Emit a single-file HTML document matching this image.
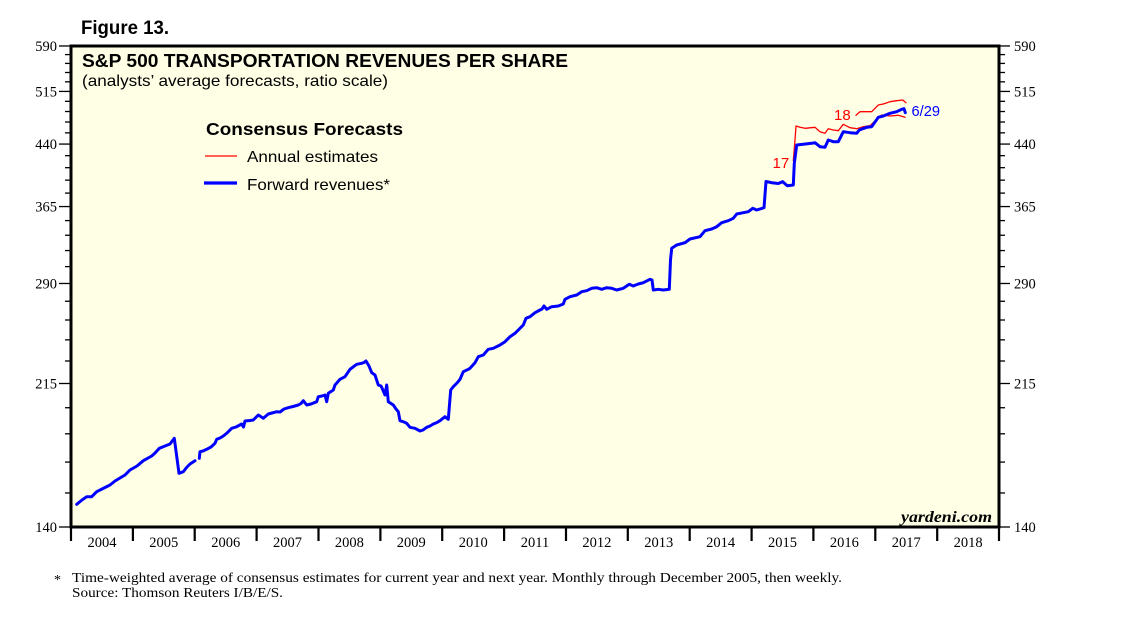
<!DOCTYPE html>
<html><head><meta charset="utf-8"><style>
html,body{margin:0;padding:0;background:#fff;}
svg{display:block;}
</style></head><body>
<svg width="1138" height="630" viewBox="0 0 1138 630" xmlns="http://www.w3.org/2000/svg">
<rect x="0" y="0" width="1138" height="630" fill="#fff"/>
<text x="81" y="34" font-family="Liberation Sans, Arial, sans-serif" font-weight="bold" font-size="19" textLength="88" lengthAdjust="spacingAndGlyphs" fill="#000">Figure 13.</text>
<rect x="71" y="46" width="928" height="481" fill="#FFFFE6"/>
<text x="82" y="67" font-family="Liberation Sans, Arial, sans-serif" font-weight="bold" font-size="18.5" textLength="486" lengthAdjust="spacingAndGlyphs" fill="#000">S&amp;P 500 TRANSPORTATION REVENUES PER SHARE</text>
<text x="82" y="86" font-family="Liberation Sans, Arial, sans-serif" font-size="16" textLength="306" lengthAdjust="spacingAndGlyphs" fill="#000">(analysts’ average forecasts, ratio scale)</text>
<text x="206" y="135" font-family="Liberation Sans, Arial, sans-serif" font-weight="bold" font-size="17.5" textLength="197" lengthAdjust="spacingAndGlyphs" fill="#000">Consensus Forecasts</text>
<line x1="205" y1="156" x2="237" y2="156" stroke="#ff0000" stroke-width="1.3"/>
<text x="247" y="162" font-family="Liberation Sans, Arial, sans-serif" font-size="16" textLength="131" lengthAdjust="spacingAndGlyphs" fill="#000">Annual estimates</text>
<line x1="204" y1="183" x2="237" y2="183" stroke="#0000ff" stroke-width="3.2"/>
<text x="247" y="190" font-family="Liberation Sans, Arial, sans-serif" font-size="16" textLength="143" lengthAdjust="spacingAndGlyphs" fill="#000">Forward revenues*</text>

<!-- left ticks -->
<g stroke="#000" stroke-width="1.3">
<line x1="59" y1="45.97" x2="71" y2="45.97"/><line x1="59" y1="91.43" x2="71" y2="91.43"/><line x1="59" y1="144.07" x2="71" y2="144.07"/><line x1="59" y1="206.56" x2="71" y2="206.56"/><line x1="59" y1="283.48" x2="71" y2="283.48"/><line x1="59" y1="383.5" x2="71" y2="383.5"/><line x1="59" y1="527" x2="71" y2="527"/>
<line x1="999" y1="45.97" x2="1010" y2="45.97"/><line x1="999" y1="91.43" x2="1010" y2="91.43"/><line x1="999" y1="144.07" x2="1010" y2="144.07"/><line x1="999" y1="206.56" x2="1010" y2="206.56"/><line x1="999" y1="283.48" x2="1010" y2="283.48"/><line x1="999" y1="383.5" x2="1010" y2="383.5"/><line x1="999" y1="527" x2="1010" y2="527"/>
</g>
<g stroke="#000" stroke-width="1.3" id="minor">
<line x1="65" y1="492.96" x2="71" y2="492.96"/><line x1="65" y1="462.07" x2="71" y2="462.07"/><line x1="65" y1="433.8" x2="71" y2="433.8"/><line x1="65" y1="407.73" x2="71" y2="407.73"/>
<line x1="65" y1="361" x2="71" y2="361"/><line x1="65" y1="339.86" x2="71" y2="339.86"/><line x1="65" y1="320" x2="71" y2="320"/><line x1="65" y1="301.24" x2="71" y2="301.24"/>
<line x1="65" y1="266.61" x2="71" y2="266.61"/><line x1="65" y1="250.56" x2="71" y2="250.56"/><line x1="65" y1="235.24" x2="71" y2="235.24"/><line x1="65" y1="220.59" x2="71" y2="220.59"/>
<line x1="65" y1="193.09" x2="71" y2="193.09"/><line x1="65" y1="180.14" x2="71" y2="180.14"/><line x1="65" y1="167.68" x2="71" y2="167.68"/><line x1="65" y1="155.67" x2="71" y2="155.67"/>
<line x1="65" y1="132.86" x2="71" y2="132.86"/><line x1="65" y1="122.01" x2="71" y2="122.01"/><line x1="65" y1="111.51" x2="71" y2="111.51"/><line x1="65" y1="101.32" x2="71" y2="101.32"/>
<line x1="65" y1="81.83" x2="71" y2="81.83"/><line x1="65" y1="72.5" x2="71" y2="72.5"/><line x1="65" y1="63.42" x2="71" y2="63.42"/><line x1="65" y1="54.59" x2="71" y2="54.59"/>
</g>
<use href="#minor" transform="translate(934,0)"/>
<g font-family="Liberation Serif, Times New Roman, serif" font-size="14.5" fill="#000" text-anchor="end">
<text x="57" y="51">590</text><text x="57" y="96.5">515</text><text x="57" y="149">440</text><text x="57" y="211.5">365</text><text x="57" y="288.5">290</text><text x="57" y="388.5">215</text><text x="57" y="532">140</text>
</g>
<g font-family="Liberation Serif, Times New Roman, serif" font-size="14.5" fill="#000">
<text x="1014" y="51">590</text><text x="1014" y="96.5">515</text><text x="1014" y="149">440</text><text x="1014" y="211.5">365</text><text x="1014" y="288.5">290</text><text x="1014" y="388.5">215</text><text x="1014" y="532">140</text>
</g>
<!-- x ticks -->
<g stroke="#000" stroke-width="2.2">
<line x1="71" y1="527" x2="71" y2="541"/><line x1="132.9" y1="527" x2="132.9" y2="541"/><line x1="194.7" y1="527" x2="194.7" y2="541"/><line x1="256.6" y1="527" x2="256.6" y2="541"/><line x1="318.5" y1="527" x2="318.5" y2="541"/><line x1="380.4" y1="527" x2="380.4" y2="541"/><line x1="442.2" y1="527" x2="442.2" y2="541"/><line x1="504.1" y1="527" x2="504.1" y2="541"/><line x1="566" y1="527" x2="566" y2="541"/><line x1="627.8" y1="527" x2="627.8" y2="541"/><line x1="689.7" y1="527" x2="689.7" y2="541"/><line x1="751.6" y1="527" x2="751.6" y2="541"/><line x1="813.4" y1="527" x2="813.4" y2="541"/><line x1="875.3" y1="527" x2="875.3" y2="541"/><line x1="937.2" y1="527" x2="937.2" y2="541"/><line x1="999" y1="527" x2="999" y2="541"/>
</g>
<g font-family="Liberation Serif, Times New Roman, serif" font-size="14.5" fill="#000" text-anchor="middle">
<text x="102" y="547">2004</text><text x="163.8" y="547">2005</text><text x="225.7" y="547">2006</text><text x="287.5" y="547">2007</text><text x="349.4" y="547">2008</text><text x="411.3" y="547">2009</text><text x="473.2" y="547">2010</text><text x="535" y="547">2011</text><text x="596.9" y="547">2012</text><text x="658.8" y="547">2013</text><text x="720.6" y="547">2014</text><text x="782.5" y="547">2015</text><text x="844.4" y="547">2016</text><text x="906.2" y="547">2017</text><text x="968.1" y="547">2018</text>
</g>

<!-- series -->
<g fill="none" stroke-linejoin="round" stroke-linecap="round">
<polyline stroke="#ff0000" stroke-width="1.3" points="793.3,160.7 795,140 796,126 800,127.3 805,128.3 815,127.3 820,131.7 825,133.3 828.3,128.7 833.3,130 838.3,130.7 843.3,124.3 850,127.7 856.7,128.7 863.3,126.7 870,125.7 876.7,119.3 881.7,115 890,116 898.3,115.3 905,117.3"/>
<polyline stroke="#ff0000" stroke-width="1.3" points="856,115.3 857.3,114 860,111.7 871.7,111.7 875,108.3 878.3,105 883.3,104 890,101.7 896.7,100.7 902.7,100 906,102.7"/>
<polyline stroke="#0000ff" stroke-width="3" points="76.7,504.3 82,500 86.7,496.7 91.7,496.7 96.7,491.7 103,488.5 110,485 115,481 120,478 125,475 130,470 137,466 143.3,460.7 151.7,456 155,453 159.3,448.3 165,446 170,444 174.3,438.3 179,473.3 183.3,471.7 187,467 190,464 195,460.7"/>
<polyline stroke="#0000ff" stroke-width="3" points="199.3,458.3 200,451.7 203,451 206.7,449.3 211,447 215,443.3 216.7,439.3 220,438 223.3,436 227,433 231.7,428.3 236,427 241.7,424 243.5,427 245,421 250,420.5 253.3,420 258.3,415 263.3,418.3 268.3,414 272,413 276.7,411.7 280,412 284,409 288.3,407.7 293,406.5 298.3,405 301,403.5 303.3,400.7 306.7,405 311,404 316.7,401.7 318.3,396.7 322,396 325,395 326.7,401.7 328.3,393.3 333.3,390 335,385 340,379.3 345,376.7 350,369.3 353,367 356.7,364.3 361.7,363.3 364,362.5 366,361 369,366 371.7,372.7 375,375 378.3,385 381,386 382,388 385,395 386.7,385 388.3,401.7 393.3,405 396,409 398.3,411.7 400,420.7 404,422 406.7,423.3 410,427.3 415,428.3 420,431 423,430 426.7,427.3 430,426 433.3,424 437,422.5 440,420.7 445,416.7 448.3,419.3 450.7,390 453.3,386.7 457,383 460,379.3 463.3,371.7 468.3,369.3 470,368.3 475,362.7 478.3,356.7 483.3,355 488.3,349.3 493.3,348.3 500,345 505,341.7 510,336.7 515,333.3 520,328.3 523.3,325 526,318.3 530,316.7 535,312.7 540,310 542,309 544,306 546.7,309.3 551.7,306.7 558.3,306 563.3,304 565,299.3 570,296.7 576.7,295 581.7,291.7 586.7,290.7 591.7,288.3 596.7,287.7 601.7,289.3 606.7,287.7 611.7,288.3 616.7,290 623.3,288.3 629.3,284.3 633.3,286 638.3,284 643.3,282.7 650,279.3 652,280 653.3,290 658.3,289.3 663.3,290 669.3,289.3 670.5,260 671.7,248.3 676.7,245 685,242.7 690,239 700,236.7 705,230.7 711.7,229 716.7,226.7 721.7,222.7 728.3,220.7 733.3,218.3 736.7,214 743.3,212.7 748.3,211.7 752.7,208.3 756.7,210 764,207.7 766,181.5 771.7,182.7 778.3,183.5 782.7,181.7 787.3,185.7 793.3,185 794.3,163.3 796.7,145 803.3,144.3 811.7,143.3 815,142.7 820,146.7 825,147.3 828.3,140 833.3,141.7 838.3,141.7 843.3,131.7 850,132.7 856.7,133.3 859.3,130 866.7,127.3 871.7,126.7 878.3,117.3 883.3,116 890,113.3 896.7,111.7 901.7,109.3 904,108.7 905.3,112.7"/>
</g>
<g font-family="Liberation Sans, Arial, sans-serif" font-size="15">
<text x="772.5" y="168" fill="#ff0000">17</text>
<text x="834" y="120" fill="#ff0000">18</text>
<text x="911.5" y="116" fill="#0000ff" textLength="28.5" lengthAdjust="spacingAndGlyphs">6/29</text>
</g>
<text x="992" y="522" text-anchor="end" font-family="Liberation Serif, Times New Roman, serif" font-style="italic" font-weight="bold" font-size="16" textLength="91" lengthAdjust="spacingAndGlyphs" fill="#000">yardeni.com</text>

<!-- frame -->
<rect x="71" y="46" width="928" height="481" fill="none" stroke="#000" stroke-width="3"/>

<g font-family="Liberation Serif, Times New Roman, serif" font-size="14" fill="#000">
<text x="54" y="584">*</text>
<text x="72" y="582" textLength="770" lengthAdjust="spacingAndGlyphs">Time-weighted average of consensus estimates for current year and next year. Monthly through December 2005, then weekly.</text>
<text x="72" y="597" textLength="211" lengthAdjust="spacingAndGlyphs">Source: Thomson Reuters I/B/E/S.</text>
</g>
</svg>
</body></html>
